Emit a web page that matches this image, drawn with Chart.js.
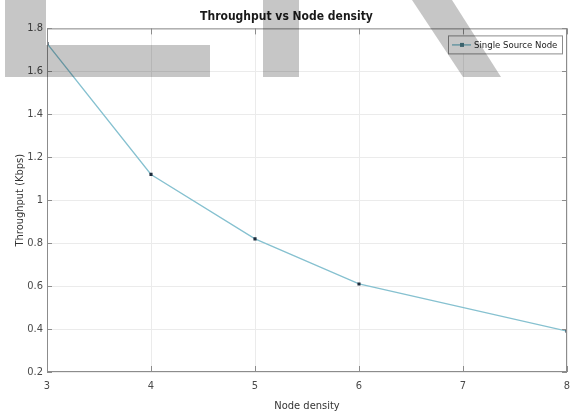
<!DOCTYPE html>
<html>
<head>
<meta charset="utf-8">
<script src="https://cdn.jsdelivr.net/npm/chart.js@4/dist/chart.umd.min.js"></script>
<style>
  html, body { margin: 0; padding: 0; background: #fff; }
  #wrap { width: 573px; height: 414px; }
</style>
</head>
<body>
<div id="wrap"><canvas id="grafico"></canvas></div>
<script>
// DATOS:
const nodeDensity = [3, 4, 5, 6, 8];
const throughput = [1.73, 1.12, 0.82, 0.61, 0.39];
const serieNombre = "Single Source Node";
const xTicks = [3, 4, 5, 6, 7, 8];
const yTicks = [0.2, 0.4, 0.6, 0.8, 1, 1.2, 1.4, 1.6, 1.8];

const fuente = "'Liberation Sans Narrow', 'Arial Narrow', 'DejaVu Sans Condensed', 'Liberation Sans', sans-serif";
const colorLinea = "#86c1d0";
const colorMarca = "#1d2c3c";

// marco, ticks hacia dentro y leyenda (estilo matlab)
const marcoPlugin = {
    id: "marco",
    afterDatasetsDraw(chart) {
        const ctx = chart.ctx;
        const a = chart.chartArea;
        const sx = chart.scales.x, sy = chart.scales.y;
        ctx.save();
        ctx.strokeStyle = "#8c8c8c";
        ctx.lineWidth = 1;
        ctx.strokeRect(a.left + 0.5, a.top + 0.5, a.right - a.left - 1, a.bottom - a.top - 1);
        ctx.beginPath();
        xTicks.forEach(v => {
            const px = Math.round(sx.getPixelForValue(v)) + 0.5;
            ctx.moveTo(px, a.bottom); ctx.lineTo(px, a.bottom - 6);
            ctx.moveTo(px, a.top); ctx.lineTo(px, a.top + 6);
        });
        yTicks.forEach(v => {
            const py = Math.round(sy.getPixelForValue(v)) + 0.5;
            ctx.moveTo(a.left, py); ctx.lineTo(a.left + 5, py);
            ctx.moveTo(a.right, py); ctx.lineTo(a.right - 5, py);
        });
        ctx.stroke();
        ctx.restore();
    },
    afterDraw(chart) {
        const ctx = chart.ctx;
        const a = chart.chartArea;
        ctx.save();
        // leyenda
        ctx.font = "9.5px " + fuente;
        const tw = ctx.measureText(serieNombre).width;
        const bw = Math.round(tw + 31), bh = 18;
        const bx = a.right - 5 - bw, by = a.top + 7;
        ctx.fillStyle = "#fff";
        ctx.fillRect(bx, by, bw, bh);
        ctx.strokeStyle = "#8c8c8c";
        ctx.strokeRect(bx + 0.5, by + 0.5, bw, bh);
        ctx.strokeStyle = colorLinea;
        ctx.lineWidth = 1.5;
        ctx.beginPath();
        ctx.moveTo(bx + 4, by + bh / 2 + 0.5);
        ctx.lineTo(bx + 23, by + bh / 2 + 0.5);
        ctx.stroke();
        ctx.fillStyle = "#4d7f8c";
        ctx.fillRect(bx + 12, by + bh / 2 - 1.5, 4, 4);
        ctx.fillStyle = "#222";
        ctx.textBaseline = "middle";
        ctx.fillText(serieNombre, bx + 26, by + bh / 2 + 1);

        // marca de agua gris
        ctx.globalCompositeOperation = "multiply";
        ctx.fillStyle = "#c6c6c6";
        ctx.fillRect(5, 0, 41, 77);
        ctx.fillRect(46, 45, 164, 32);
        ctx.fillRect(263, 0, 36, 77);
        ctx.beginPath();
        ctx.moveTo(412, 0); ctx.lineTo(452, 0); ctx.lineTo(501, 77); ctx.lineTo(463, 77);
        ctx.closePath();
        ctx.fill();
        ctx.restore();
    }
};

const puntos = nodeDensity.map((x, i) => ({ x: x, y: throughput[i] }));

new Chart(document.getElementById("grafico"), {
    type: "line",
    data: {
        datasets: [{
            label: serieNombre,
            data: puntos,
            borderColor: colorLinea,
            borderWidth: 1.3,
            pointStyle: "rect",
            pointRadius: 2.2,
            pointBackgroundColor: colorMarca,
            pointBorderColor: colorMarca,
            pointBorderWidth: 0,
            tension: 0
        }]
    },
    options: {
        responsive: true,
        maintainAspectRatio: false,
        animation: false,
        layout: { padding: { top: 0, right: 0, left: 0, bottom: 0 } },
        plugins: {
            legend: { display: false },
            tooltip: { enabled: false },
            title: {
                display: true,
                text: "Throughput vs Node density",
                color: "#1a1a1a",
                font: { family: fuente, size: 12, weight: "bold" },
                padding: { top: 10, bottom: 4 }
            }
        },
        scales: {
            x: {
                type: "linear",
                min: 3,
                max: 8,
                afterBuildTicks: s => { s.ticks = xTicks.map(v => ({ value: v })); },
                afterFit: s => { s.height = 42; s.paddingRight = 6; },
                ticks: { color: "#4a4a4a", font: { family: fuente, size: 11 }, padding: 8 },
                grid: { color: "#ebebeb", drawTicks: false },
                border: { display: false },
                title: {
                    display: true,
                    text: "Node density",
                    color: "#333",
                    font: { family: fuente, size: 11 },
                    padding: { top: 0, bottom: 1 }
                }
            },
            y: {
                min: 0.2,
                max: 1.8,
                afterBuildTicks: s => { s.ticks = yTicks.map(v => ({ value: v })); },
                afterFit: s => { s.width = 47; },
                ticks: {
                    color: "#4a4a4a",
                    font: { family: fuente, size: 11 },
                    padding: 4,
                    callback: v => String(Math.round(v * 10) / 10)
                },
                grid: { color: "#ebebeb", drawTicks: false },
                border: { display: false },
                title: {
                    display: true,
                    text: "Throughput (Kbps)",
                    color: "#333",
                    font: { family: fuente, size: 11 },
                    padding: { top: 14, bottom: 0 }
                }
            }
        }
    },
    plugins: [marcoPlugin]
});
</script>
</body>
</html>
